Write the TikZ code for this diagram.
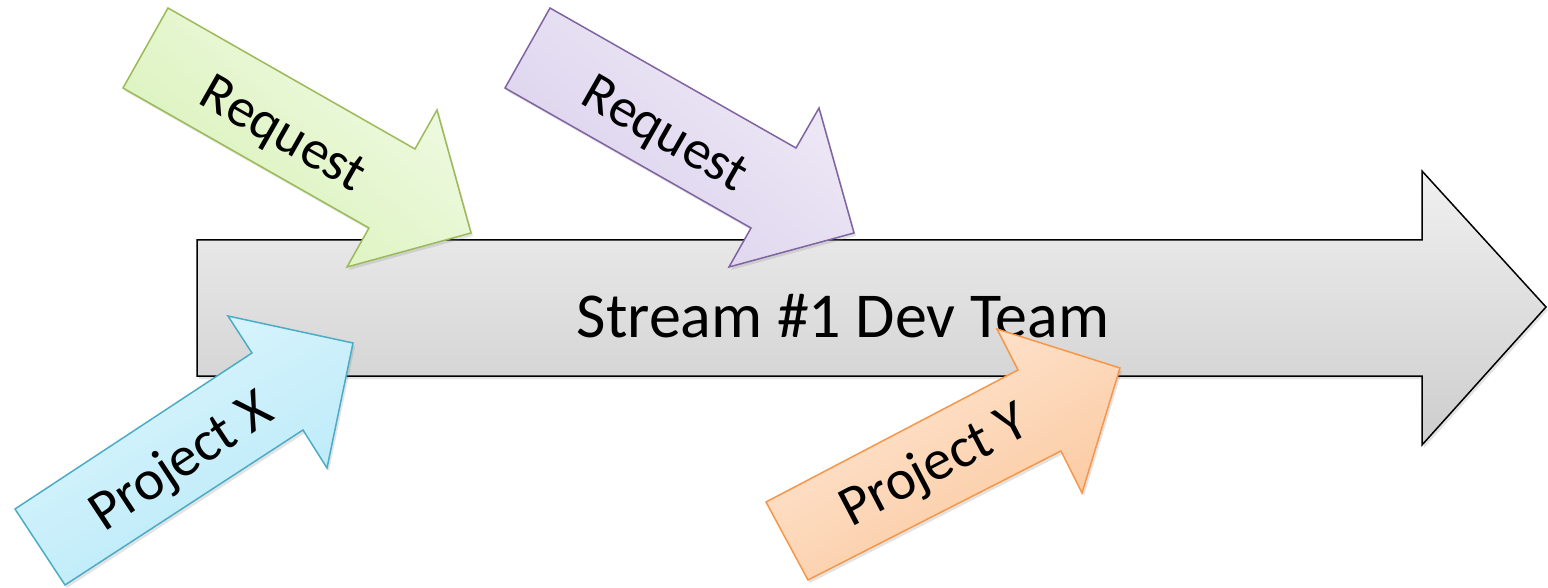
\documentclass[tikz,border=0pt]{standalone}
\usepackage{fontspec}
\setmainfont{Carlito}
\usetikzlibrary{shadows}
\definecolor{grnB}{HTML}{9BBB59}
\definecolor{grnL}{HTML}{F1FBE6}
\definecolor{grnD}{HTML}{D8F1B6}
\definecolor{purB}{HTML}{8064A2}
\definecolor{purL}{HTML}{F0EBF7}
\definecolor{purD}{HTML}{DAD0EC}
\definecolor{cyaB}{HTML}{4BACC6}
\definecolor{cyaL}{HTML}{DEF6FD}
\definecolor{cyaD}{HTML}{B6E9F8}
\definecolor{orgB}{HTML}{F79646}
\definecolor{orgL}{HTML}{FEE8D6}
\definecolor{orgD}{HTML}{FBC79C}
\definecolor{gryL}{HTML}{F0F0F0}
\definecolor{gryD}{HTML}{CDCDCD}
\begin{document}
\begin{tikzpicture}[x=1pt,y=-1pt,
  blockarrow/.style={line width=1.5pt, line join=miter,
    drop shadow={opacity=0.22, shadow xshift=2pt, shadow yshift=-3pt}},
  bigtext/.style={font=\fontsize{64}{70}\selectfont, inner sep=0pt},
  smalltext/.style={font=\fontsize{55}{60}\selectfont, inner sep=0pt},
  projtext/.style={font=\fontsize{57}{62}\selectfont, inner sep=0pt}]
\useasboundingbox (0,0) rectangle (1548,588);

% main stream arrow
\path[blockarrow, draw=black, top color=gryL, bottom color=gryD]
  (197,240) -- (1422,240) -- (1422,171) -- (1546,307) -- (1422,445)
  -- (1422,376) -- (197,376) -- cycle;
\node[bigtext] (stream) at (843,316) {Stream \#1 Dev Team};

% green request
\path[blockarrow, draw=grnB, top color=grnL, bottom color=grnD, shading angle=-40]
  (168,8) -- (415,149) -- (437,110) -- (471,233) -- (347,267)
  -- (369,228) -- (123,88) -- cycle;
\node[smalltext, rotate=-29.7] (reqA) at (282,136) {Request};

% purple request
\path[blockarrow, draw=purB, top color=purL, bottom color=purD, shading angle=-40]
  (550,8) -- (796,148) -- (819,108) -- (854,233) -- (729,267)
  -- (751,228) -- (505,88) -- cycle;
\node[smalltext, rotate=-29.7] (reqB) at (664,136) {Request};

% cyan project X
\path[blockarrow, draw=cyaB, top color=cyaL, bottom color=cyaD, shading angle=30]
  (15,509) -- (252,353) -- (228,316) -- (353,343) -- (327,468)
  -- (303,430) -- (65,585) -- cycle;
\node[projtext, rotate=33.4] (projX) at (182,463) {Project X};

% orange project Y
\path[blockarrow, draw=orgB, top color=orgL, bottom color=orgD, shading angle=30]
  (766,502) -- (1018,370) -- (997,329) -- (1120,368) -- (1082,493)
  -- (1061,451) -- (808,580) -- cycle;
\node[projtext, rotate=27.6] (projY) at (935,467) {Project Y};
\end{tikzpicture}
\end{document}
